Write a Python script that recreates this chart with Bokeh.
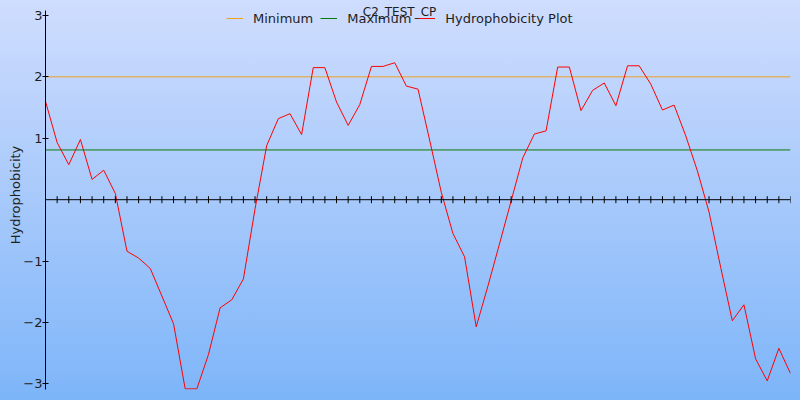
import math
from bokeh.plotting import figure
from bokeh.models import LinearAxis, FixedTicker, Legend, LegendItem, Label, Range1d, Span
from bokeh.embed import file_html
from bokeh.resources import INLINE

title_text = "C2_TEST_CP"
y_label = "Hydrophobicity"
series_names = ["Minimum", "Maximum", "Hydrophobicity Plot"]
series_colors = ["#f0a020", "#0a7a0a", "#ff0000"]

positions = list(range(1, 66))
hydrophobicity = [
    1.60, 0.93, 0.57, 0.98, 0.33, 0.48, 0.10, -0.84, -0.95, -1.12,
    -1.57, -2.02, -3.08, -3.08, -2.52, -1.76, -1.63, -1.29, -0.15, 0.88,
    1.32, 1.40, 1.06, 2.15, 2.15, 1.59, 1.21, 1.55, 2.17, 2.17,
    2.23, 1.85, 1.80, 0.97, 0.12, -0.55, -0.93, -2.07, -1.41, -0.72,
    -0.02, 0.68, 1.07, 1.12, 2.16, 2.16, 1.45, 1.78, 1.90, 1.53,
    2.18, 2.18, 1.88, 1.46, 1.54, 1.04, 0.47, -0.20, -1.10, -1.97,
    -1.71, -2.59, -2.95, -2.42, -2.83,
]
minimum_level = 2.0
maximum_level = 0.81
y_ticks = [-3, -2, -1, 1, 2, 3]
y_axis_bounds = (-3.09, 3.08)

FONT = "DejaVu Sans"
TEXT = "#1e1e1e"

p = figure(
    width=800, height=400, output_backend="svg", toolbar_location=None,
    x_range=Range1d(positions[0], positions[-1]), y_range=Range1d(-3.09, 3.243),
    x_axis_location=None, y_axis_location=None,
    min_border_left=45, min_border_right=10, min_border_top=0, min_border_bottom=11,
)
p.styles = {
    "position": "absolute", "left": "0px", "top": "0px",
    "background": "linear-gradient(to bottom, #cfddfe 0%, #a7c9fb 50%, #7db5f9 100%)",
}
p.border_fill_color = None
p.background_fill_color = None
p.outline_line_color = None
p.xgrid.visible = False
p.ygrid.visible = False

yaxis = LinearAxis(
    ticker=FixedTicker(ticks=y_ticks, minor_ticks=[]), axis_label=y_label,
    bounds=y_axis_bounds,
    axis_line_color="black", major_tick_line_color="black",
    major_tick_in=3, major_tick_out=3, minor_tick_line_color=None,
    major_label_standoff=0, axis_label_standoff=-3,
    major_label_text_font=FONT, major_label_text_font_size="13px", major_label_text_color=TEXT,
    axis_label_text_font=FONT, axis_label_text_font_size="13px",
    axis_label_text_font_style="normal", axis_label_text_color=TEXT,
)
p.add_layout(yaxis, "left")

r_min = p.line(x=[positions[0], positions[-1]], y=[minimum_level, minimum_level],
               line_color=series_colors[0], line_width=1)
r_max = p.line(x=[positions[0], positions[-1]], y=[maximum_level, maximum_level],
               line_color=series_colors[1], line_width=1)
r_h = p.line(x=positions, y=hydrophobicity, line_color=series_colors[2], line_width=1)

# horizontal axis drawn through zero, with a tick at every position
p.add_layout(Span(location=0, dimension="width", line_color="black", line_width=1))
p.scatter(x=positions, y=[0] * len(positions), marker="dash", angle=math.pi / 2,
          size=7, line_color="black", line_width=1)

legend = Legend(
    items=[LegendItem(label=series_names[0], renderers=[r_min]),
           LegendItem(label=series_names[1], renderers=[r_max]),
           LegendItem(label=series_names[2], renderers=[r_h])],
    orientation="horizontal", location=(181, 361),
    glyph_width=17, glyph_height=20, label_height=20, label_standoff=10, spacing=7,
    padding=0, margin=0, border_line_color=None, background_fill_alpha=0,
    label_text_font=FONT, label_text_font_size="13px", label_text_color=TEXT,
)
p.add_layout(legend, "center")

title = Label(x=354, y=378, x_units="screen", y_units="screen", text=title_text,
              text_align="center", text_baseline="alphabetic",
              text_font=FONT, text_font_size="12px", text_color=TEXT)
p.add_layout(title)

open("out.html", "w").write(file_html(p, INLINE))
